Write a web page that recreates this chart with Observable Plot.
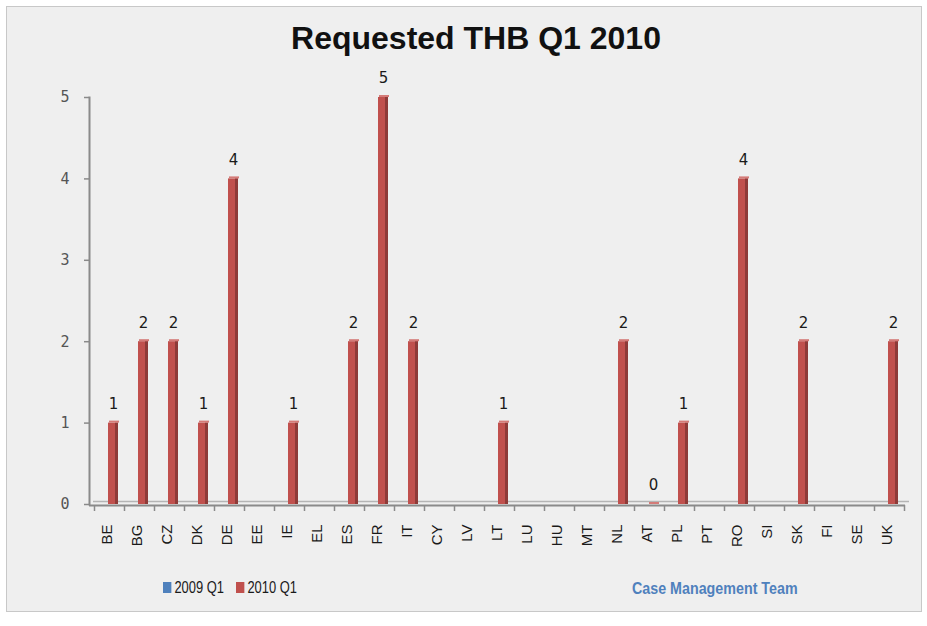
<!DOCTYPE html>
<html>
<head>
<meta charset="utf-8">
<script src="https://cdn.jsdelivr.net/npm/d3@7"></script>
<script src="https://cdn.jsdelivr.net/npm/@observablehq/plot@0.6"></script>
<style>
  html, body { margin: 0; padding: 0; background: #ffffff; }
  #wrap { position: relative; width: 927px; height: 626px; overflow: hidden; }
  #panel { position: absolute; left: 6px; top: 6px; width: 914px; height: 604px; border: 1px solid #c8c8c8; background: #efefef; }
  #title { position: absolute; left: 0; top: 20px; width: 952px; text-align: center; font-family: "Liberation Sans", sans-serif; font-weight: bold; font-size: 32px; color: #111; }
  #chart { position: absolute; left: 0; top: 0; }
  .leg { position: absolute; top: 578px; font-family: "Liberation Sans", sans-serif; font-size: 17px; color: #1a1a1a; white-space: nowrap; transform: scaleX(0.76); transform-origin: left center; }
  .sw { display: inline-block; width: 11px; height: 11px; margin-right: 4px; vertical-align: 0px; }
  #team { position: absolute; left: 632px; top: 579px; font-family: "Liberation Sans", sans-serif; font-weight: bold; font-size: 17px; color: #4f81bd; white-space: nowrap; transform: scaleX(0.84); transform-origin: left center; }
</style>
</head>
<body>
<div id="wrap">
  <div id="panel"></div>
  <div id="chart"></div>
  <div id="title">Requested THB Q1 2010</div>
  <div class="leg" style="left:163px"><span class="sw" style="background:#4f81bd"></span>2009 Q1</div>
  <div class="leg" style="left:236px"><span class="sw" style="background:#c0504d"></span>2010 Q1</div>
  <div id="team">Case Management Team</div>
</div>
<script>
const categories = ["BE","BG","CZ","DK","DE","EE","IE","EL","ES","FR","IT","CY","LV","LT","LU","HU","MT","NL","AT","PL","PT","RO","SI","SK","FI","SE","UK"];
const values2009 = [null,null,null,null,null,null,null,null,null,null,null,null,null,null,null,null,null,null,null,null,null,null,null,null,null,null,null];
const values2010 = [1,2,2,1,4,null,1,null,2,5,2,null,null,1,null,null,null,2,0,1,null,4,null,2,null,null,2];
const yTicks = [0,1,2,3,4,5];

const data = categories.map((c, i) => ({country: c, v: values2010[i]})).filter(d => d.v != null);

const axisGrey = "#8a8a8a";
const chart = Plot.plot({
  width: 927,
  height: 626,
  marginLeft: 89,
  marginRight: 22,
  marginTop: 97,
  marginBottom: 122,
  style: {background: "transparent", overflow: "visible"},
  x: {domain: categories, range: [92, 905], padding: 0, label: null},
  y: {domain: [0, 5], label: null},
  marks: [
    Plot.ruleY([0], {stroke: "#b4b4b4", strokeWidth: 1.5, dx: 4, dy: -3}),
    Plot.ruleY([0], {stroke: axisGrey, strokeWidth: 2, dy: 1}),
    Plot.frame({anchor: "left", stroke: axisGrey, strokeWidth: 2}),
    Plot.axisY(yTicks, {tickSize: 5, tickPadding: 15, stroke: axisGrey, strokeWidth: 1.5, fill: "#555", fontSize: 15, fontFamily: "DejaVu Sans Mono", tickFormat: d => String(d), label: null}),
    Plot.axisX({tickSize: 6, dx: -15, dy: 1, stroke: axisGrey, strokeWidth: 1.5, tickFormat: () => "", label: null}),
    Plot.axisX(["UK"], {tickSize: 6, dx: 15, dy: 1, stroke: axisGrey, strokeWidth: 1.5, tickFormat: () => "", label: null}),
    Plot.axisX({tickSize: 0, tickRotate: -90, tickPadding: 20, dx: -2, fontSize: 15, fill: "#1a1a1a", fontFamily: "Liberation Sans", label: null}),
    Plot.barY(data, {x: "country", y: "v", fill: "#c0504d", insetLeft: 14, insetRight: 6}),
    Plot.barY(data, {x: "country", y: "v", fill: "#8e3a38", insetLeft: 21, insetRight: 6}),
    Plot.barY(data, {x: "country", y1: "v", y2: "v", fill: "#d47b78", insetTop: -2, insetLeft: 15, insetRight: 5}),
    Plot.text(data, {x: "country", y: "v", text: d => String(d.v), dx: 4, dy: -19, fontSize: 15, fontFamily: "DejaVu Sans", fill: "#1a1a1a"})
  ]
});
document.getElementById("chart").appendChild(chart);
</script>
</body>
</html>
